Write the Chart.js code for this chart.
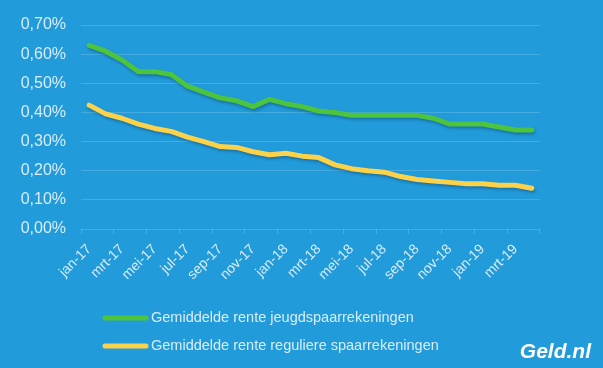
<!DOCTYPE html>
<html>
<head>
<meta charset="utf-8">
<script src="https://cdn.jsdelivr.net/npm/chart.js@4/dist/chart.umd.min.js"></script>
<style>
  html, body { margin: 0; padding: 0; background: #229bda; }
  #wrap { position: relative; width: 603px; height: 368px; }
  canvas { display: block; }
</style>
</head>
<body>
<div id="wrap"><canvas id="c" width="603" height="368"></canvas></div>
<script>
const months = ['jan-17','feb-17','mrt-17','apr-17','mei-17','jun-17','jul-17','aug-17','sep-17','okt-17','nov-17','dec-17',
                'jan-18','feb-18','mrt-18','apr-18','mei-18','jun-18','jul-18','aug-18','sep-18','okt-18','nov-18','dec-18',
                'jan-19','feb-19','mrt-19','apr-19'];
const jeugd = [0.63,0.61,0.58,0.54,0.54,0.53,0.49,0.47,0.45,0.44,0.42,0.445,
               0.43,0.42,0.405,0.40,0.39,0.39,0.39,0.39,0.39,0.38,0.36,0.36,
               0.36,0.35,0.34,0.34];
const regulier = [0.425,0.395,0.38,0.36,0.345,0.335,0.315,0.30,0.283,0.28,0.265,0.255,
                  0.26,0.25,0.245,0.22,0.207,0.20,0.195,0.18,0.17,0.165,0.16,0.155,
                  0.155,0.15,0.15,0.14];
const seriesNames = ['Gemiddelde rente jeugdspaarrekeningen','Gemiddelde rente reguliere spaarrekeningen'];
const yTicks = [0,0.1,0.2,0.3,0.4,0.5,0.6,0.7];

const GREEN = '#4cc43e';
const YELLOW = '#fbd24a';
const TEXT = 'rgba(255,255,255,0.82)';
const GRID = 'rgba(255,255,255,0.16)';

const shadowPlugin = {
  id: 'shadow',
  beforeDatasetDraw(chart) {
    const ctx = chart.ctx;
    ctx.save();
    ctx.shadowColor = 'rgba(0,40,80,0.35)';
    ctx.shadowBlur = 3;
    ctx.shadowOffsetX = 1;
    ctx.shadowOffsetY = 2;
  },
  afterDatasetDraw(chart) { chart.ctx.restore(); }
};

const legendPlugin = {
  id: 'customLegend',
  afterDraw(chart) {
    const ctx = chart.ctx;
    const rows = [318, 346];
    ctx.save();
    chart.data.datasets.forEach((ds, i) => {
      const y = rows[i];
      ctx.strokeStyle = ds.borderColor;
      ctx.lineWidth = 5;
      ctx.lineCap = 'round';
      ctx.beginPath();
      ctx.moveTo(105, y);
      ctx.lineTo(146, y);
      ctx.stroke();
      ctx.fillStyle = TEXT;
      ctx.font = '14.5px "Liberation Sans", Arial, sans-serif';
      ctx.textBaseline = 'middle';
      ctx.textAlign = 'left';
      ctx.fillText(ds.label, 151, y);
    });
    ctx.fillStyle = '#ffffff';
    ctx.font = 'italic bold 21px "Liberation Sans", Arial, sans-serif';
    ctx.textAlign = 'right';
    ctx.textBaseline = 'alphabetic';
    ctx.fillText('Geld.nl', 591, 358);
    ctx.restore();
  }
};

new Chart(document.getElementById('c'), {
  type: 'line',
  data: {
    labels: months,
    datasets: [
      { label: seriesNames[0], data: jeugd, borderColor: GREEN, backgroundColor: GREEN },
      { label: seriesNames[1], data: regulier, borderColor: YELLOW, backgroundColor: YELLOW }
    ]
  },
  options: {
    responsive: false,
    animation: false,
    devicePixelRatio: 1,
    layout: { padding: { left: 0, right: 63, top: 25, bottom: 0 } },
    elements: {
      line: { borderWidth: 5, tension: 0, borderCapStyle: 'round', borderJoinStyle: 'round' },
      point: { radius: 0, hoverRadius: 0 }
    },
    plugins: { legend: { display: false }, tooltip: { enabled: false } },
    scales: {
      x: {
        offset: true,
        afterFit(scale) { scale.height = 139; },
        border: { display: false },
        grid: {
          offset: true,
          drawOnChartArea: false,
          drawTicks: true,
          tickLength: 5,
          tickColor: (c) => (c.index === undefined || c.index % 2 === 0) ? GRID : 'rgba(0,0,0,0)'
        },
        ticks: {
          autoSkip: false,
          minRotation: 45,
          maxRotation: 45,
          padding: 7,
          color: TEXT,
          font: { family: '"Liberation Sans", Arial, sans-serif', size: 14 },
          callback: (v, i) => (i % 2 === 0 ? months[i] : '')
        }
      },
      y: {
        min: 0,
        max: 0.7,
        afterFit(scale) { scale.width = 81; },
        afterBuildTicks(scale) { scale.ticks = yTicks.map(v => ({ value: v })); },
        border: { display: false },
        grid: { color: GRID, lineWidth: 1, drawTicks: false },
        ticks: {
          padding: 15,
          color: TEXT,
          font: { family: '"Liberation Sans", Arial, sans-serif', size: 16 },
          callback: (v) => v.toFixed(2).replace('.', ',') + '%'
        }
      }
    }
  },
  plugins: [shadowPlugin, legendPlugin]
});
</script>
</body>
</html>
